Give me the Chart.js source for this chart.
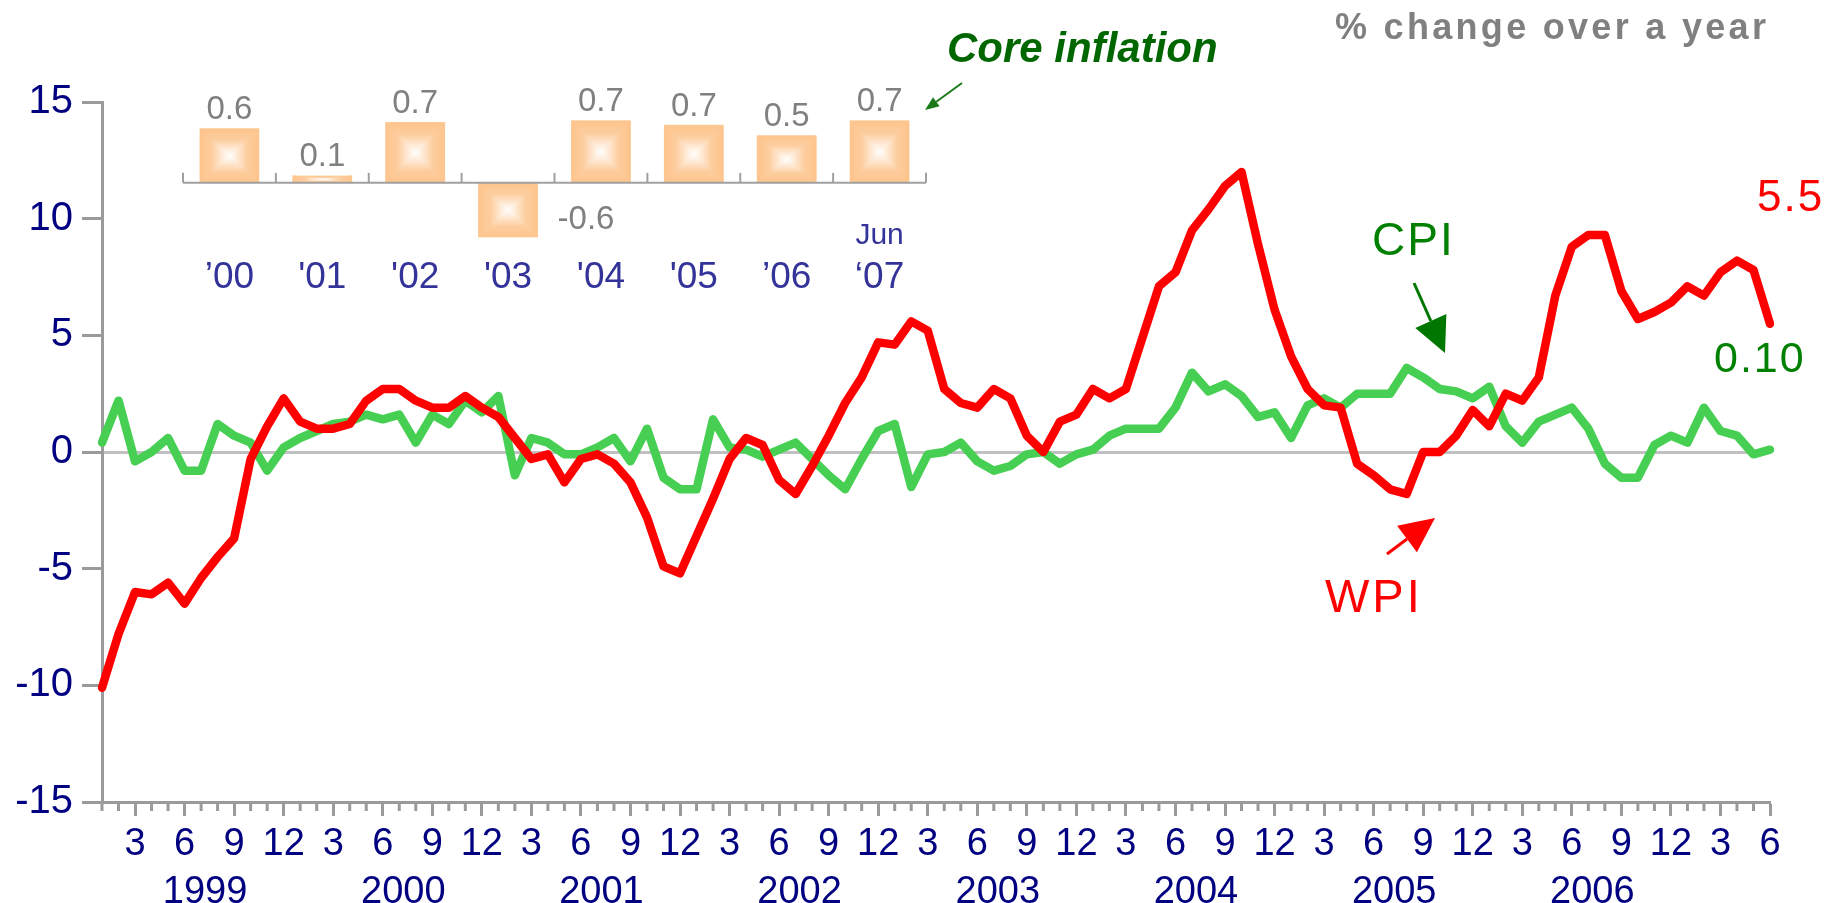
<!DOCTYPE html>
<html>
<head>
<meta charset="utf-8">
<script src="https://cdn.jsdelivr.net/npm/chart.js@4.4.1/dist/chart.umd.min.js"></script>
<style>
html,body{margin:0;padding:0;background:#fff;}
#wrap{position:relative;width:1842px;height:903px;}
#wrap canvas{position:absolute;left:0;top:0;}
</style>
</head>
<body>
<div id="wrap">
<canvas id="chart" width="1842" height="903"></canvas>
<canvas id="inset" width="1842" height="903"></canvas>
</div>
<script>
// WPI and CPI, % change over a year, monthly Jan 1999 .. Jun 2007
const wpi=[
-10.1,-7.8,-6.0,-6.1,-5.6,-6.5,-5.4,-4.5,-3.7,-0.3,1.1,2.3,
1.3,1.0,1.0,1.2,2.2,2.7,2.7,2.2,1.9,1.9,2.4,1.9,
1.5,0.6,-0.3,-0.1,-1.3,-0.3,-0.1,-0.5,-1.3,-2.8,-4.9,-5.2,
-3.6,-2.0,-0.3,0.6,0.3,-1.2,-1.8,-0.6,0.7,2.1,3.2,4.7,
4.6,5.6,5.2,2.7,2.1,1.9,2.7,2.3,0.7,0.0,1.3,1.6,
2.7,2.3,2.7,4.9,7.1,7.7,9.5,10.4,11.4,12.0,8.9,6.1,
4.1,2.7,2.0,1.9,-0.5,-1.0,-1.6,-1.8,0.0,0.0,0.7,1.8,
1.1,2.5,2.2,3.2,6.7,8.8,9.3,9.3,6.9,5.7,6.0,6.4,
7.1,6.7,7.7,8.2,7.8,5.5
];
const cpi=[
0.4,2.2,-0.4,0.0,0.6,-0.8,-0.8,1.2,0.7,0.4,-0.8,0.2,
0.6,0.9,1.2,1.3,1.6,1.4,1.6,0.4,1.6,1.2,2.2,1.7,
2.4,-1.0,0.6,0.4,-0.1,-0.1,0.2,0.6,-0.4,1.0,-1.1,-1.6,
-1.6,1.4,0.2,0.1,-0.2,0.1,0.4,-0.3,-1.0,-1.6,-0.3,0.9,
1.2,-1.5,-0.1,0.0,0.4,-0.4,-0.8,-0.6,-0.1,0.0,-0.5,-0.1,
0.1,0.7,1.0,1.0,1.0,1.9,3.4,2.6,2.9,2.4,1.5,1.7,
0.6,2.0,2.3,1.9,2.5,2.5,2.5,3.6,3.2,2.7,2.6,2.3,
2.8,1.1,0.4,1.3,1.6,1.9,1.0,-0.5,-1.1,-1.1,0.3,0.7,
0.4,1.9,0.9,0.7,-0.1,0.1
];
const years=['1999','2000','2001','2002','2003','2004','2005','2006'];
const yTicks=[-15,-10,-5,0,5,10,15];

// core inflation inset
const coreYears=['\u201900',"'01","'02","'03","'04","'05",'\u201906','\u201807'];
const core=[0.62,0.08,0.69,-0.62,0.71,0.66,0.54,0.71];

let months=[];
for(let y=1999;y<=2007;y++){
  for(let m=1;m<=12;m++){
    if(y==2007&&m>6)break;
    months.push(y+'-'+m);
  }
}

const FONT='"Liberation Sans", Arial, sans-serif';
const NAVY='#000080';
const AXIS='#9a9a9a';

function arrow(ctx,x1,y1,x2,y2,color,w,hl,hw){
  const a=Math.atan2(y2-y1,x2-x1);
  const bx=x2-hl*Math.cos(a), by=y2-hl*Math.sin(a);
  ctx.strokeStyle=color;ctx.fillStyle=color;ctx.lineWidth=w;
  ctx.beginPath();ctx.moveTo(x1,y1);ctx.lineTo(bx,by);ctx.stroke();
  ctx.beginPath();
  ctx.moveTo(x2,y2);
  ctx.lineTo(bx+hw/2*Math.sin(a),by-hw/2*Math.cos(a));
  ctx.lineTo(bx-hw/2*Math.sin(a),by+hw/2*Math.cos(a));
  ctx.closePath();ctx.fill();
}

function txt(ctx,s,x,y,font,color,sp){
  ctx.font=font;ctx.fillStyle=color;
  ctx.textAlign='left';ctx.textBaseline='alphabetic';
  if('letterSpacing' in ctx)ctx.letterSpacing=(sp||0)+'px';
  ctx.fillText(s,x,y);
  if('letterSpacing' in ctx)ctx.letterSpacing='0px';
}

const extras={
  id:'extras',
  afterDraw(chart){
    const ctx=chart.ctx, xs=chart.scales.x, b=chart.chartArea.bottom;
    ctx.save();
    // short month ticks
    ctx.strokeStyle=AXIS;ctx.lineWidth=3;
    months.forEach((lab,i)=>{
      if((i%12+1)%3!==0){
        const px=xs.getPixelForValue(i);
        ctx.beginPath();ctx.moveTo(px,b);ctx.lineTo(px,b+9);ctx.stroke();
      }
    });
    // year labels
    ctx.font='38px '+FONT;ctx.fillStyle=NAVY;
    ctx.textAlign='center';ctx.textBaseline='middle';
    years.forEach((y,k)=>{
      ctx.fillText(y,xs.getPixelForValue(k*12+6)+4,893);
    });
    // texts
    txt(ctx,'% change over a year',1335,39,'bold 36px '+FONT,'#808080',3.3);
    txt(ctx,'Core inflation',947,62,'italic bold 42px '+FONT,'#006600',0);
    txt(ctx,'CPI',1372,255,'46px '+FONT,'#008000',2);
    txt(ctx,'WPI',1325,612,'47px '+FONT,'#ff0000',3);
    txt(ctx,'5.5',1757,211,'44px '+FONT,'#ff0000',2);
    txt(ctx,'0.10',1714,372,'43px '+FONT,'#008000',2);
    // arrows
    arrow(ctx,962,83,925,110,'#1a7a1a',2,14,11);
    arrow(ctx,1414,283,1445,353,'#007700',3,35,34);
    arrow(ctx,1387,554,1435,518,'#ff0000',3,35,33);
    ctx.restore();
  }
};

new Chart(document.getElementById('chart'),{
  type:'line',
  data:{
    labels:months,
    datasets:[
      {label:'WPI',data:wpi,borderColor:'#ff0000',borderWidth:8.5,pointRadius:0,tension:0,
       borderJoinStyle:'round',borderCapStyle:'round'},
      {label:'CPI',data:cpi,borderColor:'#46cf52',borderWidth:8.5,pointRadius:0,tension:0,
       borderJoinStyle:'round',borderCapStyle:'round'}
    ]
  },
  options:{
    responsive:false,
    animation:false,
    layout:{padding:{left:0,right:72,top:102,bottom:0}},
    plugins:{legend:{display:false},tooltip:{enabled:false}},
    scales:{
      x:{
        type:'category',
        offset:false,
        grid:{drawOnChartArea:false,tickLength:14,tickWidth:3,
          tickColor:c=>((c.index%12)+1)%3===0?AXIS:'rgba(0,0,0,0)'},
        border:{color:AXIS,width:3},
        ticks:{autoSkip:false,maxRotation:0,minRotation:0,padding:6,color:NAVY,
          font:{family:FONT,size:38},
          callback:(v,i)=>{const m=i%12+1;return m%3===0?String(m):'';}},
        afterFit:s=>{s.height=101;}
      },
      y:{
        min:-15,max:15,
        afterBuildTicks:s=>{s.ticks=yTicks.map(v=>({value:v}));},
        ticks:{padding:9,color:NAVY,font:{family:FONT,size:40}},
        grid:{drawOnChartArea:true,lineWidth:3,tickLength:20,tickWidth:3,tickColor:AXIS,
          color:c=>c.tick&&c.tick.value===0?'#c0c0c0':'rgba(0,0,0,0)'},
        border:{color:AXIS,width:3},
        afterFit:s=>{s.width=102;}
      }
    }
  },
  plugins:[extras]
});

// inset: core inflation bars
const pillow={
  id:'pillow',
  afterDatasetsDraw(chart){
    const ctx=chart.ctx, meta=chart.getDatasetMeta(0);
    const ys=chart.scales.y, xs=chart.scales.x, ca=chart.chartArea;
    ctx.save();
    meta.data.forEach((bar,i)=>{
      const p=bar.getProps(['x','y','base','width'],true);
      const l=p.x-p.width/2, r=p.x+p.width/2;
      const t=Math.min(p.y,p.base), bt=Math.max(p.y,p.base);
      const cx=p.x, cy=(t+bt)/2;
      const tri=(pts,gx,gy)=>{
        const g=ctx.createLinearGradient(gx,gy,cx,cy);
        g.addColorStop(0,'#fdc48c');
        g.addColorStop(0.4,'#fdcd9e');
        g.addColorStop(1,'#ffffff');
        ctx.fillStyle=g;ctx.strokeStyle=g;ctx.lineWidth=0.6;
        ctx.beginPath();ctx.moveTo(pts[0],pts[1]);ctx.lineTo(pts[2],pts[3]);ctx.lineTo(cx,cy);
        ctx.closePath();ctx.fill();ctx.stroke();
      };
      tri([l,t,r,t],cx,t);
      tri([l,bt,r,bt],cx,bt);
      tri([l,t,l,bt],l,cy);
      tri([r,t,r,bt],r,cy);
      // value labels
      ctx.font='33px '+FONT;ctx.fillStyle='#808080';
      const s=core[i].toFixed(1);
      if(core[i]>=0){
        ctx.textAlign='center';ctx.textBaseline='bottom';
        ctx.fillText(s,p.x,p.y-2);
      }else{
        ctx.textAlign='left';ctx.textBaseline='middle';
        ctx.fillText(s,r+20,cy+10);
      }
    });
    // baseline with ticks
    const y0=ys.getPixelForValue(0);
    ctx.strokeStyle='#a0a0a0';ctx.lineWidth=2;
    ctx.beginPath();ctx.moveTo(ca.left,y0);ctx.lineTo(ca.right,y0);ctx.stroke();
    const n=core.length, step=(ca.right-ca.left)/n;
    for(let k=0;k<=n;k++){
      const px=ca.left+k*step;
      ctx.beginPath();ctx.moveTo(px,y0);ctx.lineTo(px,y0-10);ctx.stroke();
    }
    ctx.font='30px '+FONT;ctx.fillStyle='#333399';
    ctx.textAlign='center';ctx.textBaseline='middle';
    ctx.fillText('Jun',xs.getPixelForValue(n-1),236);
    ctx.restore();
  }
};

new Chart(document.getElementById('inset'),{
  type:'bar',
  data:{
    labels:coreYears,
    datasets:[{data:core,backgroundColor:'#fdc690',barPercentage:0.635,categoryPercentage:1}]
  },
  options:{
    responsive:false,
    animation:false,
    layout:{padding:{left:183,right:916,top:113,bottom:599}},
    plugins:{legend:{display:false},tooltip:{enabled:false}},
    scales:{
      x:{
        grid:{display:false,drawTicks:false},
        border:{display:false},
        ticks:{color:'#333399',padding:12,font:{family:FONT,size:37}},
        afterFit:s=>{s.height=60;}
      },
      y:{display:false,min:-0.7,max:0.8}
    }
  },
  plugins:[pillow]
});
</script>
</body>
</html>
